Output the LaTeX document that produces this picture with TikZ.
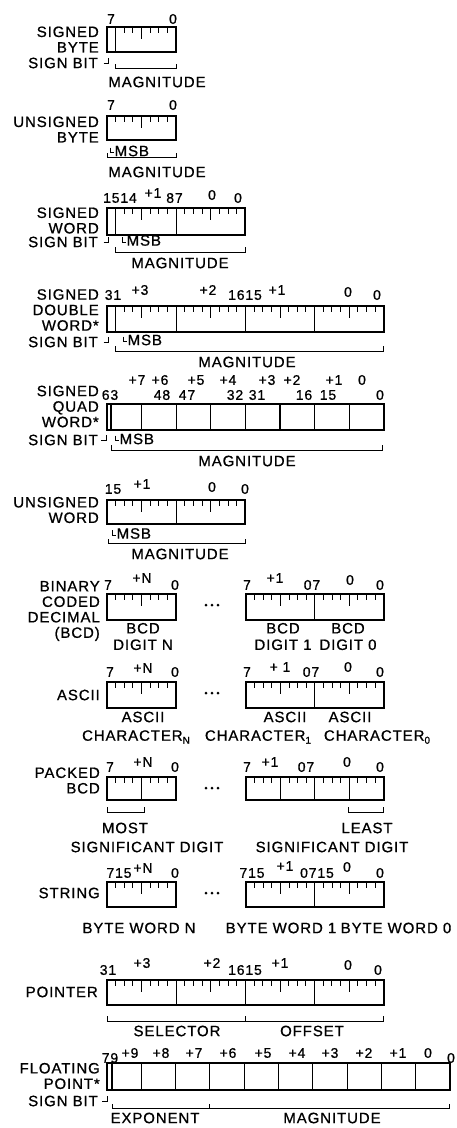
\documentclass[tikz,border=0pt]{standalone}
\usepackage{fontspec}
\setmainfont{Liberation Sans}[LetterSpace=6,FakeBold=0.8]
\usetikzlibrary{positioning}
% register drawn as a row of bits: left, top, bits, bit width, divider step, height
\newcommand{\regbox}[6]{%
  \foreach \i in {1,...,#3}{%
    \pgfmathtruncatemacro{\isdiv}{mod(\i,#5)==0}%
    \pgfmathtruncatemacro{\isnib}{mod(\i,4)==0}%
    \ifnum\isdiv=1
      \draw[divline] (#1+\i*#4,#2) -- ++(0,#6);
    \else\ifnum\isnib=1
      \draw[tickline] (#1+\i*#4,#2) -- ++(0,12);
    \else
      \draw[tickline] (#1+\i*#4,#2) -- ++(0,5.5);
    \fi\fi
  }
  \draw[regframe] (#1,#2) rectangle ++(#3*#4,#6);
}
% register drawn as plain byte cells: left, top, cells, cell width, height
\newcommand{\cellbox}[5]{%
  \foreach \i in {1,...,#3}
    \draw[divline] (#1+\i*#4,#2) -- ++(0,#5);
  \draw[regframe] (#1,#2) rectangle ++(#3*#4,#5);
}
\newcommand{\signmark}[2]{\draw[brk] (#1-5,#2) -- (#1,#2) -- (#1,#2-5);}
\newcommand{\msbmark}[3]{%
  \draw[brk] (#1,#2-5) -- (#1,#2) -- (#1+4,#2);
  \node[undertext,anchor=west] (#3) at (#1+4.5,#2-1.5) {MSB};
}
\newcommand{\lowidx}[1]{\raisebox{-3pt}{\fontsize{10}{10}\selectfont #1}}

\begin{document}
\begin{tikzpicture}[x=1pt,y=-1pt,
  regframe/.style={line width=1.9pt},
  divline/.style={line width=1.1pt},
  tickline/.style={line width=1pt},
  brk/.style={line width=1pt},
  lbl/.style={font=\fontsize{15}{15.5}\selectfont,align=right,anchor=east,inner sep=0pt},
  num/.style={font=\fontsize{14}{14}\selectfont,inner sep=0pt},
  undertext/.style={font=\fontsize{15}{16.5}\selectfont,align=center,inner sep=0pt}
]
\useasboundingbox (0,0) rectangle (456,1128);

% Signed byte
\node[lbl] (sbyte) at (99,39.5) {SIGNED\\BYTE};
\regbox{107}{27}{8}{8.65}{8}{25}
\draw[divline] (115.65,27) -- ++(0,25);
\foreach \x/\y/\t [count=\n] in {111/19/7,173/19/0}
  \node[num] (sbyte-n\n) at (\x,\y) {\t};
\node[lbl] (sbyte-sign) at (98,63) {SIGN BIT};
\signmark{108.5}{63}
\draw[brk] (115.65,64) |- (176.2,68) -- ++(0,-4);
\node[undertext] (sbyte-mag) at (157,82) {MAGNITUDE};

% Unsigned byte
\node[lbl] (ubyte) at (99,129.5) {UNSIGNED\\BYTE};
\regbox{107}{116}{8}{8.65}{8}{24}
\foreach \x/\y/\t [count=\n] in {111/105/7,173/105/0}
  \node[num] (ubyte-n\n) at (\x,\y) {\t};
\msbmark{110}{152.5}{ubyte-msb}
\draw[brk] (107,153) |- (176.2,157) -- ++(0,-4);
\node[undertext] (ubyte-mag) at (157,172) {MAGNITUDE};

% Signed word
\node[lbl] (sword) at (99,220.5) {SIGNED\\WORD};
\regbox{107}{208}{16}{8.65}{8}{27}
\draw[divline] (115.65,208) -- ++(0,27);
\foreach \x/\y/\t [count=\n] in {120/198/1514,153/193/+1,174.5/198/87,212/195/0,238/198/0}
  \node[num] (sword-n\n) at (\x,\y) {\t};
\node[lbl] (sword-sign) at (98,242) {SIGN BIT};
\signmark{108.5}{242}
\msbmark{122}{242}{sword-msb}
\draw[brk] (115.65,247) |- (245.4,252) -- ++(0,-5);
\node[undertext] (sword-mag) at (180,263) {MAGNITUDE};

% Signed double word
\node[lbl] (dword) at (99,310) {SIGNED\\DOUBLE\\WORD*};
\regbox{107}{306}{32}{8.65}{8}{26}
\draw[divline] (115.65,306) -- ++(0,26);
\foreach \x/\y/\t [count=\n] in {113/295/31,140/290/+3,208/290/+2,245/295/1615,
    277/290/+1,348/292/0,377/295/0}
  \node[num] (dword-n\n) at (\x,\y) {\t};
\node[lbl] (dword-sign) at (98,342) {SIGN BIT};
\signmark{108.5}{342}
\msbmark{123}{341.5}{dword-msb}
\draw[brk] (115.65,346) |- (383.8,351) -- ++(0,-5);
\node[undertext] (dword-mag) at (247,362) {MAGNITUDE};

% Signed quad word
\node[lbl] (qword) at (99,406.5) {SIGNED\\QUAD\\WORD*};
\cellbox{107}{404}{8}{34.6}{26}
\draw[divline] (111,404) -- ++(0,26);
\foreach \x/\t [count=\n] in {137/+7,160/+6,196/+5,228/+4,267/+3,292/+2,334/+1,362/0}
  \node[num] (qword-b\n) at (\x,380) {\t};
\foreach \x/\t [count=\n] in {110/63,162/48,187/47,235/32,257/31,304/16,328/15,380/0}
  \node[num] (qword-n\n) at (\x,395) {\t};
\node[lbl] (qword-sign) at (98,440) {SIGN BIT};
\signmark{106}{440}
\msbmark{115}{440.5}{qword-msb}
\draw[brk] (111,445) |- (382,450) -- ++(0,-5);
\node[undertext] (qword-mag) at (247,461) {MAGNITUDE};

% Unsigned word
\node[lbl] (uword) at (99,510) {UNSIGNED\\WORD};
\regbox{107}{500}{16}{8.65}{8}{24}
\foreach \x/\y/\t [count=\n] in {113/489/15,142/484/+1,212/487/0,245/489/0}
  \node[num] (uword-n\n) at (\x,\y) {\t};
\msbmark{112}{535}{uword-msb}
\draw[brk] (108,539) |- (245,543) -- ++(0,-4);
\node[undertext] (uword-mag) at (180,554) {MAGNITUDE};

% Binary coded decimal
\node[lbl] (bcd) at (100,611) {BINARY\\CODED\\DECIMAL\\(BCD)};
\regbox{107}{594}{8}{8.65}{8}{26}
\regbox{246}{594}{16}{8.6}{8}{26}
\foreach \d in {-6,0,6} \fill (212+\d,605) circle (1.5);
\foreach \x/\y/\t [count=\n] in {108/585/7,142/578/+N,175/585/0,247/585/7,275/578/+1,
    312/585/07,350/580/0,380/585/0}
  \node[num] (bcd-n\n) at (\x,\y) {\t};
\foreach \x/\t [count=\n] in {143/N,283/1,348/0}
  \node[undertext] (bcd-d\n) at (\x,636.5) {BCD\\DIGIT \t};

% ASCII
\node[lbl] (ascii) at (100,695) {ASCII};
\regbox{107}{682}{8}{8.65}{8}{26}
\regbox{246}{682}{16}{8.6}{8}{26}
\foreach \d in {-6,0,6} \fill (212+\d,693) circle (1.5);
\foreach \x/\y/\t [count=\n] in {110/672/7,143/668/+N,175/672/0,247/672/7,280/667/+ 1,
    311/672/07,348/667/0,380/672/0}
  \node[num] (ascii-n\n) at (\x,\y) {\t};
\foreach \x [count=\n] in {143,285,350}
  \node[undertext] (ascii-a\n) at (\x,717) {ASCII};
\foreach \x/\t [count=\n] in {136/N,258/1,377/0}
  \node[undertext] (ascii-c\n) at (\x,737) {CHARACTER\lowidx{\t}};

% Packed BCD
\node[lbl] (pbcd) at (100,780.5) {PACKED\\BCD};
\regbox{107}{777}{8}{8.65}{4}{23}
\regbox{246}{777}{16}{8.6}{4}{23}
\foreach \d in {-6,0,6} \fill (212+\d,788) circle (1.5);
\foreach \x/\y/\t [count=\n] in {110/767/7,143/762/+N,175/767/0,247/767/7,270/762/+1,
    306/767/07,347/762/0,380/767/0}
  \node[num] (pbcd-n\n) at (\x,\y) {\t};
\draw[brk] (107,807) |- (144.3,812) -- ++(0,-5);
\draw[brk] (348.4,807) |- (383.6,812) -- ++(0,-5);
\node[undertext] (pbcd-most) at (125,828) {MOST};
\node[undertext] (pbcd-least) at (367,828) {LEAST};
\node[undertext] (pbcd-sig1) at (147,847) {SIGNIFICANT DIGIT};
\node[undertext] (pbcd-sig2) at (332,847) {SIGNIFICANT DIGIT};

% String
\node[lbl] (str) at (100,893) {STRING};
\regbox{107}{882}{8}{8.65}{8}{25}
\regbox{246}{882}{16}{8.6}{8}{25}
\foreach \d in {-6,0,6} \fill (212+\d,893) circle (1.5);
\foreach \x/\y/\t [count=\n] in {119/873/715,143/868/+N,175/873/0,252/873/715,285/866/+1,
    317/873/0715,347/867/0,380/873/0}
  \node[num] (str-n\n) at (\x,\y) {\t};
\foreach \x/\t [count=\n] in {139/N,281/1,396/0}
  \node[undertext] (str-w\n) at (\x,928) {BYTE WORD \t};

% Pointer
\node[lbl] (ptr) at (98,992) {POINTER};
\regbox{107}{980}{32}{8.65}{8}{25}
\foreach \x/\y/\t [count=\n] in {108/970/31,142/963/+3,212/963/+2,245/970/1615,
    280/963/+1,348/965/0,378/970/0}
  \node[num] (ptr-n\n) at (\x,\y) {\t};
\draw[brk] (107,1016) |- (383.8,1021) -- ++(0,-5);
\draw[brk] (245.4,1021) -- ++(0,-5);
\node[undertext] (ptr-sel) at (177,1031) {SELECTOR};
\node[undertext] (ptr-off) at (312,1031) {OFFSET};

% Floating point
\node[lbl] (fp) at (100,1076) {FLOATING\\POINT*};
\cellbox{107}{1063}{10}{34.3}{27}
\draw[divline] (112,1063) -- ++(0,27);
\foreach \x/\y/\t [count=\n] in {110/1058/79,130/1053/+9,161/1053/+8,194/1053/+7,
    228/1053/+6,263/1053/+5,297/1053/+4,330/1053/+3,364/1053/+2,398/1053/+1,
    428/1053/0,451/1058/0}
  \node[num] (fp-n\n) at (\x,\y) {\t};
\node[lbl] (fp-sign) at (98,1101) {SIGN BIT};
\signmark{107}{1101}
\draw[brk] (112,1104) |- (449,1108) -- ++(0,-4);
\draw[brk] (209,1108) -- ++(0,-4);
\node[undertext] (fp-exp) at (155,1118) {EXPONENT};
\node[undertext] (fp-mag) at (332,1118) {MAGNITUDE};
\end{tikzpicture}
\end{document}
